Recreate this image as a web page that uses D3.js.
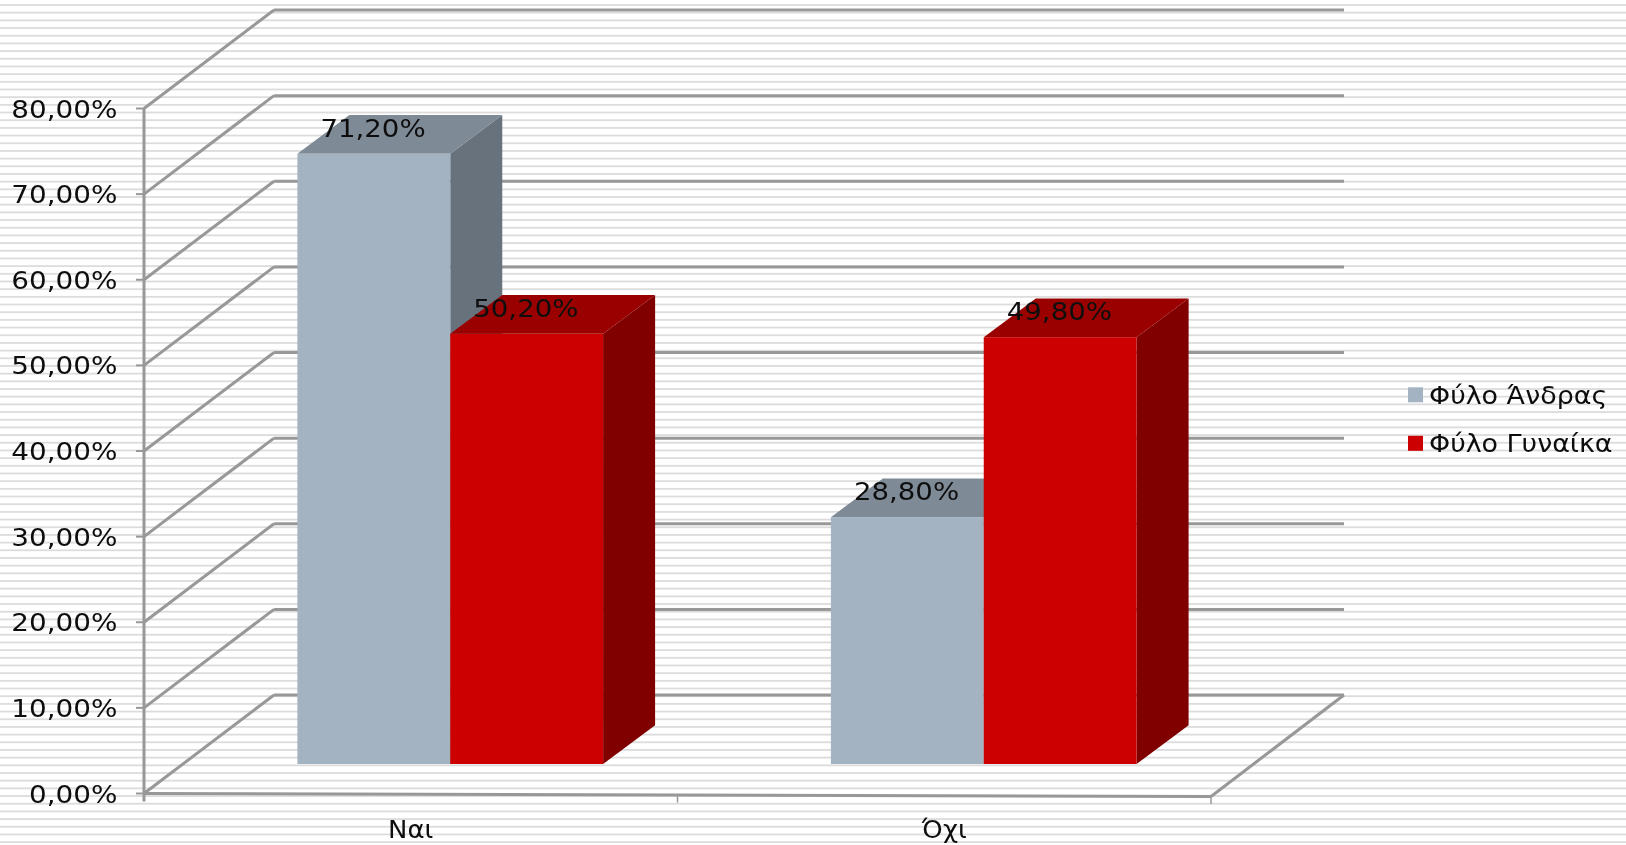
<!DOCTYPE html>
<html><head><meta charset="utf-8">
<style>html,body{margin:0;padding:0;background:#fff;overflow:hidden}svg{display:block}text{font-family:"DejaVu Sans",sans-serif;fill:#111}</style>
<script src="https://cdn.jsdelivr.net/npm/d3@7"></script></head><body>
<script>
const categories = ["Ναι", "Όχι"];
const seriesNames = ["Φύλο Άνδρας", "Φύλο Γυναίκα"];
const maleValues = [71.2, 28.8];
const femaleValues = [50.2, 49.8];
const valueLabels = [["71,20%", "28,80%"], ["50,20%", "49,80%"]];
const yTicks = [0, 10, 20, 30, 40, 50, 60, 70, 80];
const yTickLabels = ["0,00%", "10,00%", "20,00%", "30,00%", "40,00%", "50,00%", "60,00%", "70,00%", "80,00%"];
const seriesColors = [
  {front: "#a3b3c2", top: "#7e8a96", side: "#67727c"},
  {front: "#cc0000", top: "#9a0000", side: "#800000"}
];

const W = 1626, H = 845;
const svg = d3.select("body").append("svg").attr("width", W).attr("height", H);
svg.append("defs").append("filter").attr("id", "soft").attr("x", "-2%").attr("y", "-2%").attr("width", "104%").attr("height", "104%")
  .append("feGaussianBlur").attr("stdDeviation", 0.45);

// striped background
svg.append("g").selectAll("rect").data(d3.range(0, 110)).join("rect")
  .attr("x", 0).attr("width", W).attr("y", d => 4.1 + d * 7.68).attr("height", 1.8).attr("fill", "#dcdcdc");

const root = svg.append("g").attr("filter", "url(#soft)");

const axisX0 = 144, axisX1 = 1211, backX0 = 274, backX1 = 1344;
const yFront = d3.scaleLinear().domain([0, 80]).range([793.5, 108.5]);
const yBack = d3.scaleLinear().domain([0, 80]).range([695, 10]);
const yBar = d3.scaleLinear().domain([0, 80]).range([764, 78.4]);
const depthX = 52, depthY = 38.7;
const axisColor = "#989898";

const xCat = d3.scaleBand().domain(categories).range([axisX0, axisX1]);
const xGroup = d3.scaleBand().domain(categories).range([axisX0 + 39.5, axisX1 + 39.5]).paddingInner(0.427).paddingOuter(0.2135);
const xSeries = d3.scaleBand().domain([0, 1]).range([0, xGroup.bandwidth()]);

// gridlines on back wall and side wall
const grid = root.append("g");
grid.selectAll(".back").data(yTicks).join("line").attr("class", "back")
  .attr("x1", backX0).attr("x2", backX1).attr("y1", yBack).attr("y2", yBack)
  .attr("stroke", axisColor).attr("stroke-width", 3);
grid.selectAll(".side").data(yTicks).join("line").attr("class", "side")
  .attr("x1", axisX0).attr("x2", backX0).attr("y1", yFront).attr("y2", yBack)
  .attr("stroke", axisColor).attr("stroke-width", 3);
grid.append("line").attr("x1", axisX1).attr("x2", backX1).attr("y1", yFront(0) + 3).attr("y2", yBack(0))
  .attr("stroke", axisColor).attr("stroke-width", 3);

// axes
const axes = root.append("g");
axes.append("line").attr("x1", axisX0).attr("x2", axisX0).attr("y1", yFront(80)).attr("y2", yFront(0) + 8)
  .attr("stroke", axisColor).attr("stroke-width", 3);
axes.append("line").attr("x1", axisX0).attr("x2", axisX1).attr("y1", yFront(0)).attr("y2", yFront(0) + 3)
  .attr("stroke", axisColor).attr("stroke-width", 3);
axes.selectAll(".tick").data(yTicks).join("line").attr("class", "tick")
  .attr("x1", axisX0 - 8).attr("x2", axisX0).attr("y1", yFront).attr("y2", yFront)
  .attr("stroke", axisColor).attr("stroke-width", 2);
axes.selectAll(".xtick").data(categories).join("line").attr("class", "xtick")
  .attr("x1", d => xCat(d) + xCat.bandwidth()).attr("x2", d => xCat(d) + xCat.bandwidth())
  .attr("y1", (d, i) => yFront(0) + 1.5 + i * 1.5).attr("y2", (d, i) => yFront(0) + 9 + i * 1.5)
  .attr("stroke", axisColor).attr("stroke-width", 1.5);

// 3D bars
const barData = [];
categories.forEach((c, ci) => {
  [maleValues, femaleValues].forEach((vals, si) => {
    barData.push({c, si, v: vals[ci], label: valueLabels[si][ci]});
  });
});
const bars = root.append("g").selectAll("g").data(barData).join("g");
const bx = d => xGroup(d.c) + xSeries(d.si);
const bw = xSeries.bandwidth();
bars.append("polygon").attr("fill", d => seriesColors[d.si].side)
  .attr("points", d => [[bx(d) + bw, yBar(d.v)], [bx(d) + bw + depthX, yBar(d.v) - depthY], [bx(d) + bw + depthX, yBar(0) - depthY], [bx(d) + bw, yBar(0)]].join(" "));
bars.append("polygon").attr("fill", d => seriesColors[d.si].top)
  .attr("points", d => [[bx(d), yBar(d.v)], [bx(d) + depthX, yBar(d.v) - depthY], [bx(d) + bw + depthX, yBar(d.v) - depthY], [bx(d) + bw, yBar(d.v)]].join(" "));
bars.append("rect").attr("fill", d => seriesColors[d.si].front)
  .attr("x", bx).attr("width", bw).attr("y", d => yBar(d.v)).attr("height", d => yBar(0) - yBar(d.v));

// text helper: the reference glyphs are stretched horizontally
function wide(sel, k) {
  sel.each(function () {
    const len = this.getComputedTextLength();
    d3.select(this).attr("textLength", len * k).attr("lengthAdjust", "spacingAndGlyphs");
  });
}
const txt = root.append("g");
txt.selectAll(".vl").data(barData).join("text").attr("class", "vl")
  .attr("x", d => bx(d) + 23).attr("y", d => yBar(d.v) - 17)
  .attr("font-size", 24).text(d => d.label).call(wide, 1.15);
txt.selectAll(".yl").data(yTicks).join("text").attr("class", "yl")
  .attr("x", 117.5).attr("text-anchor", "end").attr("y", d => yFront(d) + 9)
  .attr("font-size", 24).text((d, i) => yTickLabels[i]).call(wide, 1.16);
txt.selectAll(".xl").data(categories).join("text").attr("class", "xl")
  .attr("x", d => xCat(d) + xCat.bandwidth() / 2).attr("text-anchor", "middle").attr("y", 838)
  .attr("font-size", 24).text(d => d).call(wide, 1.08);

// legend
const legend = root.append("g").selectAll("g").data(seriesNames).join("g");
legend.append("rect").attr("x", 1408).attr("width", 15).attr("height", 15)
  .attr("y", (d, i) => 387.3 + i * 48.5).attr("fill", (d, i) => seriesColors[i].front);
legend.append("text").attr("x", 1429).attr("y", (d, i) => 404 + i * 47.5)
  .attr("font-size", 24).text(d => d).call(wide, 1.12);
</script></body></html>
